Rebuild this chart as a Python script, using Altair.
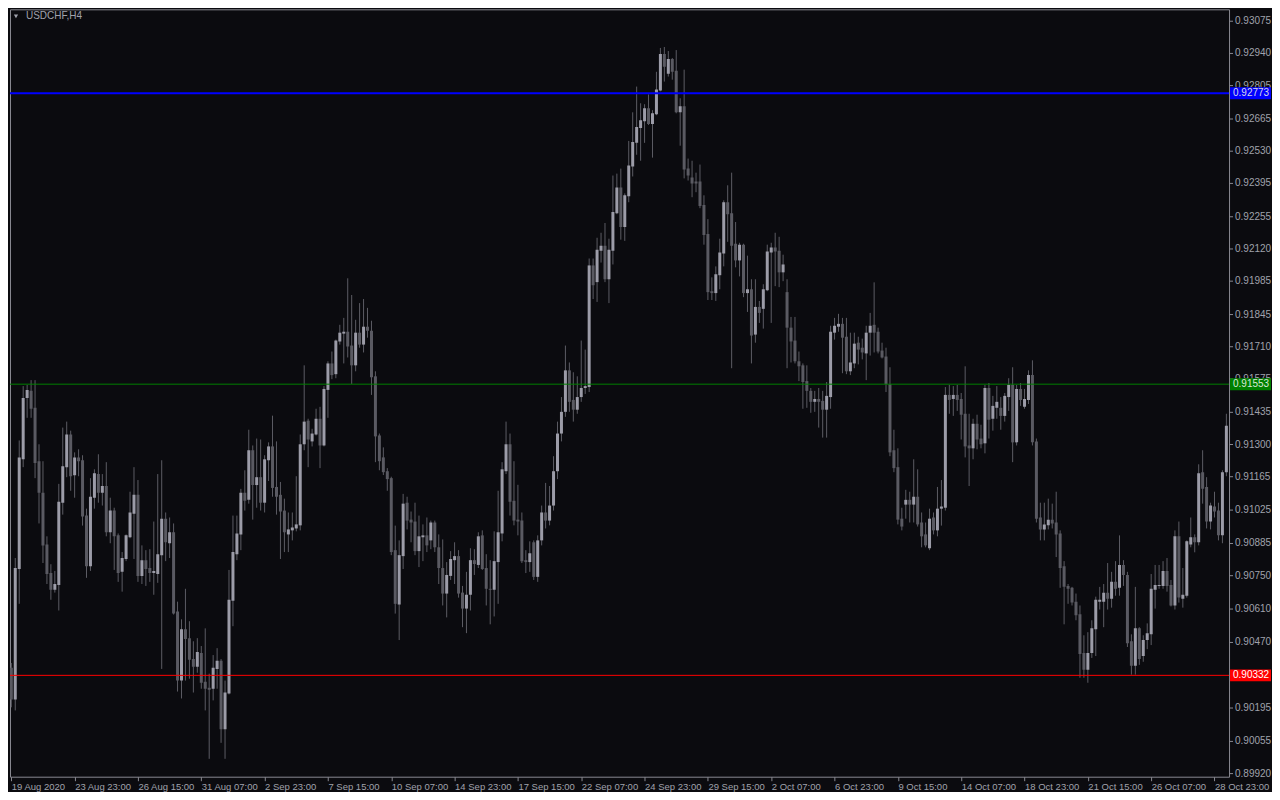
import altair as alt
import pandas as pd

# ---- data (prices in points, 1 point = 0.00001) ----
open_pts = [
90364,90231,90778,91238,91495,91525,91454,91230,91098,90881,
90761,90691,90711,91056,91205,91342,91171,91246,91234,91002,
90790,91077,91176,91098,91126,90932,91023,90919,90766,90820,
90911,91010,91089,90749,90815,90782,90761,90757,90836,90989,
90886,90932,90600,90310,90525,90488,90401,90368,90426,90305,
90280,90276,90359,90393,90106,90256,90645,90840,90923,91098,
91068,91276,91130,91163,91056,91234,91292,91122,91089,91023,
90923,90940,90948,90961,91301,91400,91313,91342,91408,91296,
91529,91640,91595,91732,91765,91773,91715,91632,91769,91719,
91794,91777,91586,91338,91246,91188,91159,90857,90629,90832,
91056,90985,90977,90853,90911,90919,90898,90973,90869,90782,
90675,90749,90815,90832,90679,90612,90670,90815,90795,90919,
90782,90695,90691,90807,90927,91188,91301,91064,90985,90981,
90815,90807,90890,90745,90898,91015,90981,91044,91188,91346,
91437,91611,91487,91446,91499,91537,91541,92051,91981,92113,
92134,91993,92113,92270,92378,92212,92341,92466,92565,92627,
92656,92710,92644,92685,92785,92938,92855,92917,92867,92693,
92718,92457,92420,92403,92403,92304,92183,91943,91935,92010,
92101,92316,92270,92142,92072,92138,91935,91951,91761,91877,
91869,91947,92105,92126,92113,92022,91939,91790,91736,91649,
91632,91566,91525,91479,91491,91483,91446,91499,91769,91794,
91806,91752,91607,91640,91727,91706,91682,91769,91802,91773,
91694,91669,91553,91276,91205,90989,91048,91068,91048,91081,
90973,90923,90865,90994,90940,91031,91035,91508,91491,91508,
91491,91429,91296,91284,91387,91325,91305,91537,91408,91454,
91454,91420,91499,91550,91309,91533,91458,91487,91591,91313,
90994,90944,90961,90985,90973,90927,90790,90707,90699,90641,
90588,90426,90355,90426,90525,90641,90641,90678,90653,90724,
90699,90795,90753,90475,90372,90529,90413,90480,90504,90691,
90707,90707,90770,90711,90625,90915,90653,90666,90881,90911,
90890,91184,91122,90977,91040,91023,90919,91184,
]
high_pts = [
90384,90824,91317,91545,91550,91570,91570,91301,91230,90915,
90798,90770,91135,91371,91396,91358,91267,91280,91255,91031,
91159,91196,91259,91176,91226,91077,91035,90927,90849,90923,
91102,91205,91151,90877,90857,90861,90977,91176,91234,91015,
90994,90969,90641,90567,90695,90559,90475,90488,90455,90529,
90339,90417,90446,90400,90310,90774,91002,91002,91114,91192,
91362,91296,91325,91321,91255,91309,91421,91313,91143,91073,
91015,91015,91167,91342,91632,91408,91366,91450,91458,91545,
91649,91690,91740,91802,91831,91997,91927,91823,91893,91910,
91873,91819,91607,91346,91288,91201,91165,90960,90898,91093,
91081,91019,91056,91002,90965,90994,90981,90981,90923,90902,
90807,90853,90890,90857,90707,90766,90865,90861,90932,90940,
90840,90815,90936,91106,91226,91396,91346,91230,91131,91015,
90857,90894,90898,90919,91044,91139,91126,91251,91396,91499,
91715,91644,91603,91586,91736,91698,92080,92080,92167,92188,
92229,92163,92428,92436,92457,92353,92573,92693,92801,92731,
92727,92768,92702,92863,92963,92967,92950,92921,92954,92752,
92872,92499,92490,92440,92474,92345,92245,92001,92047,92163,
92324,92387,92440,92233,92146,92142,92092,91993,91993,91902,
91972,92138,92146,92188,92171,92096,91993,91835,91835,91690,
91640,91632,91537,91525,91537,91525,91562,91798,91831,91848,
91831,91831,91769,91769,91752,91744,91798,91852,91980,91790,
91727,91706,91624,91362,91284,91035,91110,91102,91238,91196,
91015,90973,91031,91015,91122,91151,91541,91550,91545,91550,
91516,91628,91429,91408,91425,91383,91550,91558,91504,91545,
91499,91516,91578,91624,91550,91558,91533,91611,91653,91325,
91056,91056,91073,91052,91102,90940,90811,90715,90703,90675,
90625,90500,90513,90563,90662,90703,90715,90803,90766,90811,
90919,90815,90766,90504,90703,90534,90500,90550,90757,90795,
90795,90811,90824,90732,90940,90977,90782,90898,90994,90923,
91217,91276,91163,91056,91102,91056,91192,91429,
]
low_pts = [
90198,90185,90632,91205,91412,91412,91159,90969,90803,90715,
90649,90679,90604,91006,91163,91106,91077,91167,90960,90741,
90770,91031,91056,91044,90915,90886,90774,90724,90683,90811,
90907,90820,90724,90715,90707,90724,90670,90720,90359,90811,
90824,90587,90264,90235,90310,90318,90260,90343,90276,90185,
89982,90227,90276,90049,89982,90252,90538,90815,90857,91023,
91052,90985,91035,91023,91015,91147,91081,91006,90820,90849,
90849,90898,90936,90940,91276,91205,91292,91338,91201,91292,
91412,91574,91578,91719,91640,91665,91554,91607,91706,91686,
91748,91508,91226,91192,91172,91106,90836,90591,90480,90778,
90944,90890,90836,90786,90811,90849,90861,90849,90715,90625,
90575,90732,90715,90658,90534,90509,90604,90753,90782,90774,
90625,90546,90579,90632,90894,91176,91002,90961,90919,90803,
90761,90766,90732,90724,90877,90948,90961,91023,91155,91313,
91416,91437,91396,91429,91479,91512,91520,91910,91898,92063,
91981,91893,92055,92266,92159,92154,92316,92424,92515,92490,
92565,92640,92503,92681,92781,92822,92843,92830,92689,92553,
92416,92407,92337,92358,92291,92138,91906,91906,91902,91951,
92047,92150,91620,92043,92005,91918,91856,91640,91727,91810,
91786,91943,91810,91964,91960,91985,91620,91644,91640,91566,
91450,91454,91433,91437,91371,91329,91329,91450,91740,91773,
91599,91595,91591,91620,91636,91657,91570,91673,91686,91682,
91661,91520,91251,91184,90965,90940,90989,90973,90973,90956,
90869,90869,90857,90923,90915,90960,91023,91429,91420,91441,
91321,91246,91126,91238,91280,91284,91263,91325,91358,91408,
91362,91396,91441,91226,91296,91462,91450,91470,91296,90973,
90898,90898,90944,90948,90828,90699,90546,90632,90625,90563,
90322,90322,90301,90405,90413,90608,90534,90608,90616,90666,
90666,90707,90451,90335,90335,90376,90389,90442,90459,90612,
90695,90695,90683,90621,90608,90637,90616,90658,90869,90848,
90877,91052,90948,90944,90994,90898,90886,91167,
]
close_pts = [
90231,90782,91246,91495,91529,91450,91222,91098,90877,90757,
90691,90715,91060,91209,91342,91167,91246,91230,90998,90790,
91081,91180,91098,91126,90932,91023,90915,90761,90824,90919,
91015,91089,90749,90815,90778,90761,90770,90840,90989,90890,
90932,90591,90310,90525,90484,90397,90368,90430,90301,90276,
90272,90364,90393,90106,90260,90649,90849,90927,91098,91064,
91276,91130,91163,91056,91238,91292,91118,91081,91019,90932,
90944,90952,90965,91301,91396,91321,91346,91408,91296,91533,
91640,91591,91736,91769,91773,91711,91632,91769,91719,91794,
91777,91582,91334,91230,91184,91155,90849,90632,90836,91052,
90981,90973,90853,90915,90919,90877,90973,90869,90782,90675,
90753,90820,90832,90675,90612,90670,90815,90799,90915,90778,
90695,90691,90811,90932,91196,91301,91060,90981,90977,90811,
90807,90844,90745,90898,91015,90981,91044,91188,91346,91437,
91611,91479,91446,91499,91537,91545,92051,91968,92117,92134,
91993,92117,92275,92378,92212,92345,92470,92569,92631,92660,
92710,92644,92689,92789,92938,92884,92917,92863,92693,92718,
92453,92428,92395,92395,92300,92179,91939,91935,92014,92105,
92316,92266,92134,92072,92138,91935,91951,91757,91877,91852,
91951,92109,92126,92109,92022,92055,91790,91732,91649,91628,
91562,91525,91479,91491,91479,91446,91504,91773,91798,91806,
91748,91607,91644,91723,91698,91686,91769,91798,91769,91690,
91665,91553,91267,91201,90985,90956,91068,91048,91081,90965,
90915,90877,90989,90940,91031,91040,91508,91487,91508,91487,
91425,91292,91284,91387,91321,91301,91537,91404,91462,91479,
91420,91504,91550,91309,91533,91487,91491,91591,91309,90989,
90944,90965,90985,90969,90923,90782,90704,90695,90637,90584,
90422,90355,90426,90529,90649,90649,90678,90653,90724,90695,
90795,90753,90467,90372,90529,90401,90480,90509,90695,90711,
90711,90770,90707,90625,90915,90658,90670,90894,90911,90890,
91180,91114,90977,91044,91019,90919,91184,91379,
]

time_labels = [
    "19 Aug 2020", "23 Aug 23:00", "26 Aug 15:00", "31 Aug 07:00", "2 Sep 23:00",
    "7 Sep 15:00", "10 Sep 07:00", "14 Sep 23:00", "17 Sep 15:00", "22 Sep 07:00",
    "24 Sep 23:00", "29 Sep 15:00", "2 Oct 07:00", "6 Oct 23:00", "9 Oct 15:00",
    "14 Oct 07:00", "18 Oct 23:00", "21 Oct 15:00", "26 Oct 07:00", "28 Oct 23:00",
]
price_ticks = [
    0.93075, 0.92940, 0.92805, 0.92665, 0.92530, 0.92395, 0.92255, 0.92120,
    0.91985, 0.91845, 0.91710, 0.91575, 0.91435, 0.91300, 0.91165, 0.91025,
    0.90885, 0.90750, 0.90610, 0.90470, 0.90330, 0.90195, 0.90055, 0.89920,
]
level_prices = [0.92773, 0.91553, 0.90332]
symbol_title = "USDCHF,H4"

# ---- table ----
n = len(close_pts)
df = pd.DataFrame({
    "i": list(range(n)),
    "open": [v / 1e5 for v in open_pts],
    "high": [v / 1e5 for v in high_pts],
    "low": [v / 1e5 for v in low_pts],
    "close": [v / 1e5 for v in close_pts],
})
df["dir"] = ["up" if c > o else "down" for o, c in zip(df["open"], df["close"])]
ticks_df = pd.DataFrame({"price": price_ticks})

# ---- style ----
W, H = 1220, 768
BG = "#0b0b0f"
FRAME = "#8a8a92"
LABEL = "#a0a2ac"
WICK = "#5c5c64"
BULL = "#9c9ca8"
BEAR = "#5a5a62"
FONT = "Liberation Sans"
LEVEL_COLORS = ["#0000ff", "#008000", "#ff0000"]
LEVEL_WIDTHS = [2, 1, 1]
LEVEL_TEXT = ["#d8d8e8", "#d8e8d8", "#ffffff"]

step = 16
xs = alt.Scale(domain=[-0.33, n - 0.33], nice=False, zero=False, padding=0)
ys = alt.Scale(domain=[0.89907, 0.93125], nice=False, zero=False, padding=0)

label_js = "[" + ",".join("'" + s + "'" for s in time_labels) + "][round(datum.value / 16)]"

x_axis = alt.Axis(
    values=list(range(0, n, step)), labelExpr=label_js, orient="bottom",
    grid=False, domain=False, ticks=True, tickSize=4, tickColor=FRAME,
    labelColor=LABEL, labelFont=FONT, labelFontSize=9.5, labelAlign="left",
    labelBaseline="top", labelPadding=1, labelOverlap=False, labelBound=False,
    labelFlush=False, title=None,
)

wicks = alt.Chart(df).mark_rule(color=WICK, strokeWidth=1, clip=True).encode(
    x=alt.X("i:Q", scale=xs, axis=x_axis, title=None),
    y=alt.Y("low:Q", scale=ys, axis=None, title=None),
    y2=alt.Y2("high:Q", title=None),
)
bodies = alt.Chart(df).mark_bar(width=3, clip=True).encode(
    x=alt.X("i:Q", title=None),
    y=alt.Y("open:Q", title=None),
    y2=alt.Y2("close:Q", title=None),
    color=alt.Color("dir:N", scale=alt.Scale(domain=["up", "down"], range=[BULL, BEAR]), legend=None),
)

# price scale on the right: tick marks + labels
y_ticks = alt.Chart(ticks_df).mark_rule(color=FRAME, strokeWidth=1).encode(
    x=alt.value(W), x2=alt.value(W + 4), y=alt.Y("price:Q", title=None)
)
y_labels = alt.Chart(ticks_df).mark_text(
    align="left", baseline="middle", font=FONT, fontSize=10, color=LABEL
).encode(
    x=alt.value(W + 6), y=alt.Y("price:Q", title=None),
    text=alt.Text("price:Q", format=".5f"),
)

layers = [wicks, bodies, y_ticks, y_labels]
for p, c, w, tc in zip(level_prices, LEVEL_COLORS, LEVEL_WIDTHS, LEVEL_TEXT):
    d = pd.DataFrame({"price": [p]})
    line = alt.Chart(d).mark_rule(color=c, strokeWidth=w).encode(
        y=alt.Y("price:Q", title=None)
    )
    box = alt.Chart(d).transform_calculate(
        top="datum.price + 0.00025", bot="datum.price - 0.00025"
    ).mark_rect(color=c).encode(
        x=alt.value(W + 1), x2=alt.value(W + 42),
        y=alt.Y("top:Q", title=None), y2=alt.Y2("bot:Q", title=None),
    )
    txt = alt.Chart(d).mark_text(
        align="left", baseline="middle", font=FONT, fontSize=10, color=tc
    ).encode(
        x=alt.value(W + 4), y=alt.Y("price:Q", title=None),
        text=alt.Text("price:Q", format=".5f"),
    )
    layers += [line, box, txt]

title_df = pd.DataFrame({"t": [symbol_title]})
title_txt = alt.Chart(title_df).mark_text(
    align="left", baseline="middle", font=FONT, fontSize=10, color=LABEL
).encode(x=alt.value(16), y=alt.value(7), text="t:N")
tri = alt.Chart(title_df).mark_point(
    shape="triangle-down", filled=True, size=18, color=LABEL, opacity=1
).encode(x=alt.value(6), y=alt.value(7))
layers += [title_txt, tri]

chart = alt.layer(*layers).properties(
    width=W, height=H, background=BG,
    padding={"left": 1, "top": 1, "right": 0, "bottom": 0},
).configure_view(
    stroke=FRAME, strokeWidth=1, fill=BG
).configure_axis(
    labelOverlap=False, labelBound=False, labelFlush=False
)

chart.save("out.html", embed_options={"renderer": "svg", "actions": False})
